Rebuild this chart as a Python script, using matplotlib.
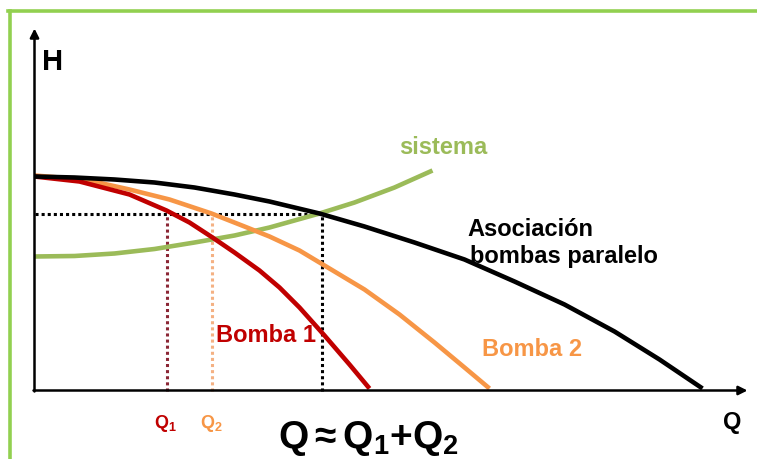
import matplotlib
matplotlib.use("Agg")
import matplotlib.pyplot as plt
from matplotlib.lines import Line2D

plt.rcParams['font.family'] = ['Liberation Sans', 'DejaVu Sans']
plt.rcParams['mathtext.fontset'] = 'custom'
plt.rcParams['mathtext.rm'] = 'Liberation Sans'
plt.rcParams['mathtext.bf'] = 'Liberation Sans:bold'
plt.rcParams['mathtext.it'] = 'Liberation Sans:italic'

# ---- data (Q, H) ----
assoc_q = [0, 40, 80, 120, 160, 200, 235, 285, 330, 380, 430, 480, 530, 580, 625, 668]
assoc_h = [214, 213, 211, 208, 203, 196, 189, 177, 164, 148, 131, 109, 86, 59, 31, 2]

b1_q = [0, 45, 95, 132, 155, 178, 200, 225, 245, 265, 290, 315, 335]
b1_h = [214, 209, 196, 180, 168, 153, 138, 120, 103, 83, 55, 26, 2]

b2_q = [0, 50, 95, 135, 177, 210, 235, 265, 295, 330, 365, 400, 430, 455]
b2_h = [215, 211, 201, 191, 177, 164, 154, 140, 122, 101, 76, 48, 23, 2]

sis_q = [0, 40, 80, 120, 160, 200, 235, 260, 285, 320, 360, 398]
sis_h = [134, 134.5, 137, 141.5, 148, 155, 163, 170, 177, 188, 203, 220]

op_h = 177          # operating head
q1 = 132            # Q1
q2 = 177            # Q2
q_tot = 287         # Q total

RED = '#C00000'
ORANGE = '#F79646'
GREEN = '#9BBB59'
BORDER = '#92D050'

fig = plt.figure(figsize=(7.57, 4.59), dpi=100)
ax = fig.add_axes([0, 0, 1, 1])
ax.set_xlim(-34.5, 722.5)
ax.set_ylim(-68.5, 390.5)
ax.axis('off')

# border (top and left)
fig.add_artist(Line2D([8 / 757, 1], [1 - 11 / 459, 1 - 11 / 459], transform=fig.transFigure,
                      color=BORDER, lw=2.6))
fig.add_artist(Line2D([10 / 757, 10 / 757], [0, 1 - 11 / 459], transform=fig.transFigure,
                      color=BORDER, lw=2.6))

# dotted guide lines
dot = (0, (1, 1))
ax.plot([0, q_tot], [op_h, op_h], color='black', lw=2.2, ls=dot)
ax.plot([q1, q1], [0, op_h], color='#8B2635', lw=2.2, ls=dot)
ax.plot([q2, q2], [0, op_h], color='#F4B183', lw=2.2, ls=dot)
ax.plot([q_tot, q_tot], [0, op_h], color='black', lw=2.2, ls=dot)

# curves
kw = dict(lw=3.3, solid_joinstyle='round', solid_capstyle='butt')
ax.plot(sis_q, sis_h, color=GREEN, **kw)
ax.plot(b2_q, b2_h, color=ORANGE, **kw)
ax.plot(b1_q, b1_h, color=RED, **kw)
ax.plot(assoc_q, assoc_h, color='black', **kw)

# axes with arrows
ax.annotate('', xy=(713, 0), xytext=(-1, 0),
            arrowprops=dict(arrowstyle='-|>', lw=1.8, color='black',
                            mutation_scale=13, shrinkA=0, shrinkB=0))
ax.annotate('', xy=(0, 362), xytext=(0, -1),
            arrowprops=dict(arrowstyle='-|>', lw=1.8, color='black',
                            mutation_scale=13, shrinkA=0, shrinkB=0))

# labels
ax.text(8, 320, 'H', fontsize=21, fontweight='bold', color='black', va='baseline', ha='left')
ax.text(688, -38, 'Q', fontsize=17, fontweight='bold', color='black', va='baseline', ha='left')
ax.text(365, 237, 'sistema', fontsize=17, fontweight='bold', color=GREEN, va='baseline', ha='left')
ax.text(433, 155, 'Asociación', fontsize=17, fontweight='bold', color='black', va='baseline', ha='left')
ax.text(435, 127, 'bombas paralelo', fontsize=17, fontweight='bold', color='black', va='baseline', ha='left')
ax.text(182, 48, 'Bomba 1', fontsize=17, fontweight='bold', color=RED, va='baseline', ha='left')
ax.text(448, 35, 'Bomba 2', fontsize=17, fontweight='bold', color=ORANGE, va='baseline', ha='left')
ax.text(120, -38, r'$\mathbf{Q_1}$', fontsize=13, color=RED, va='baseline', ha='left')
ax.text(165, -38, r'$\mathbf{Q_2}$', fontsize=13, color=ORANGE, va='baseline', ha='left')
ax.text(243, -57, r'$\mathbf{Q \approx Q_1{+}Q_2}$', fontsize=28, color='black', va='baseline', ha='left')

fig.savefig('out.png', dpi=100)
